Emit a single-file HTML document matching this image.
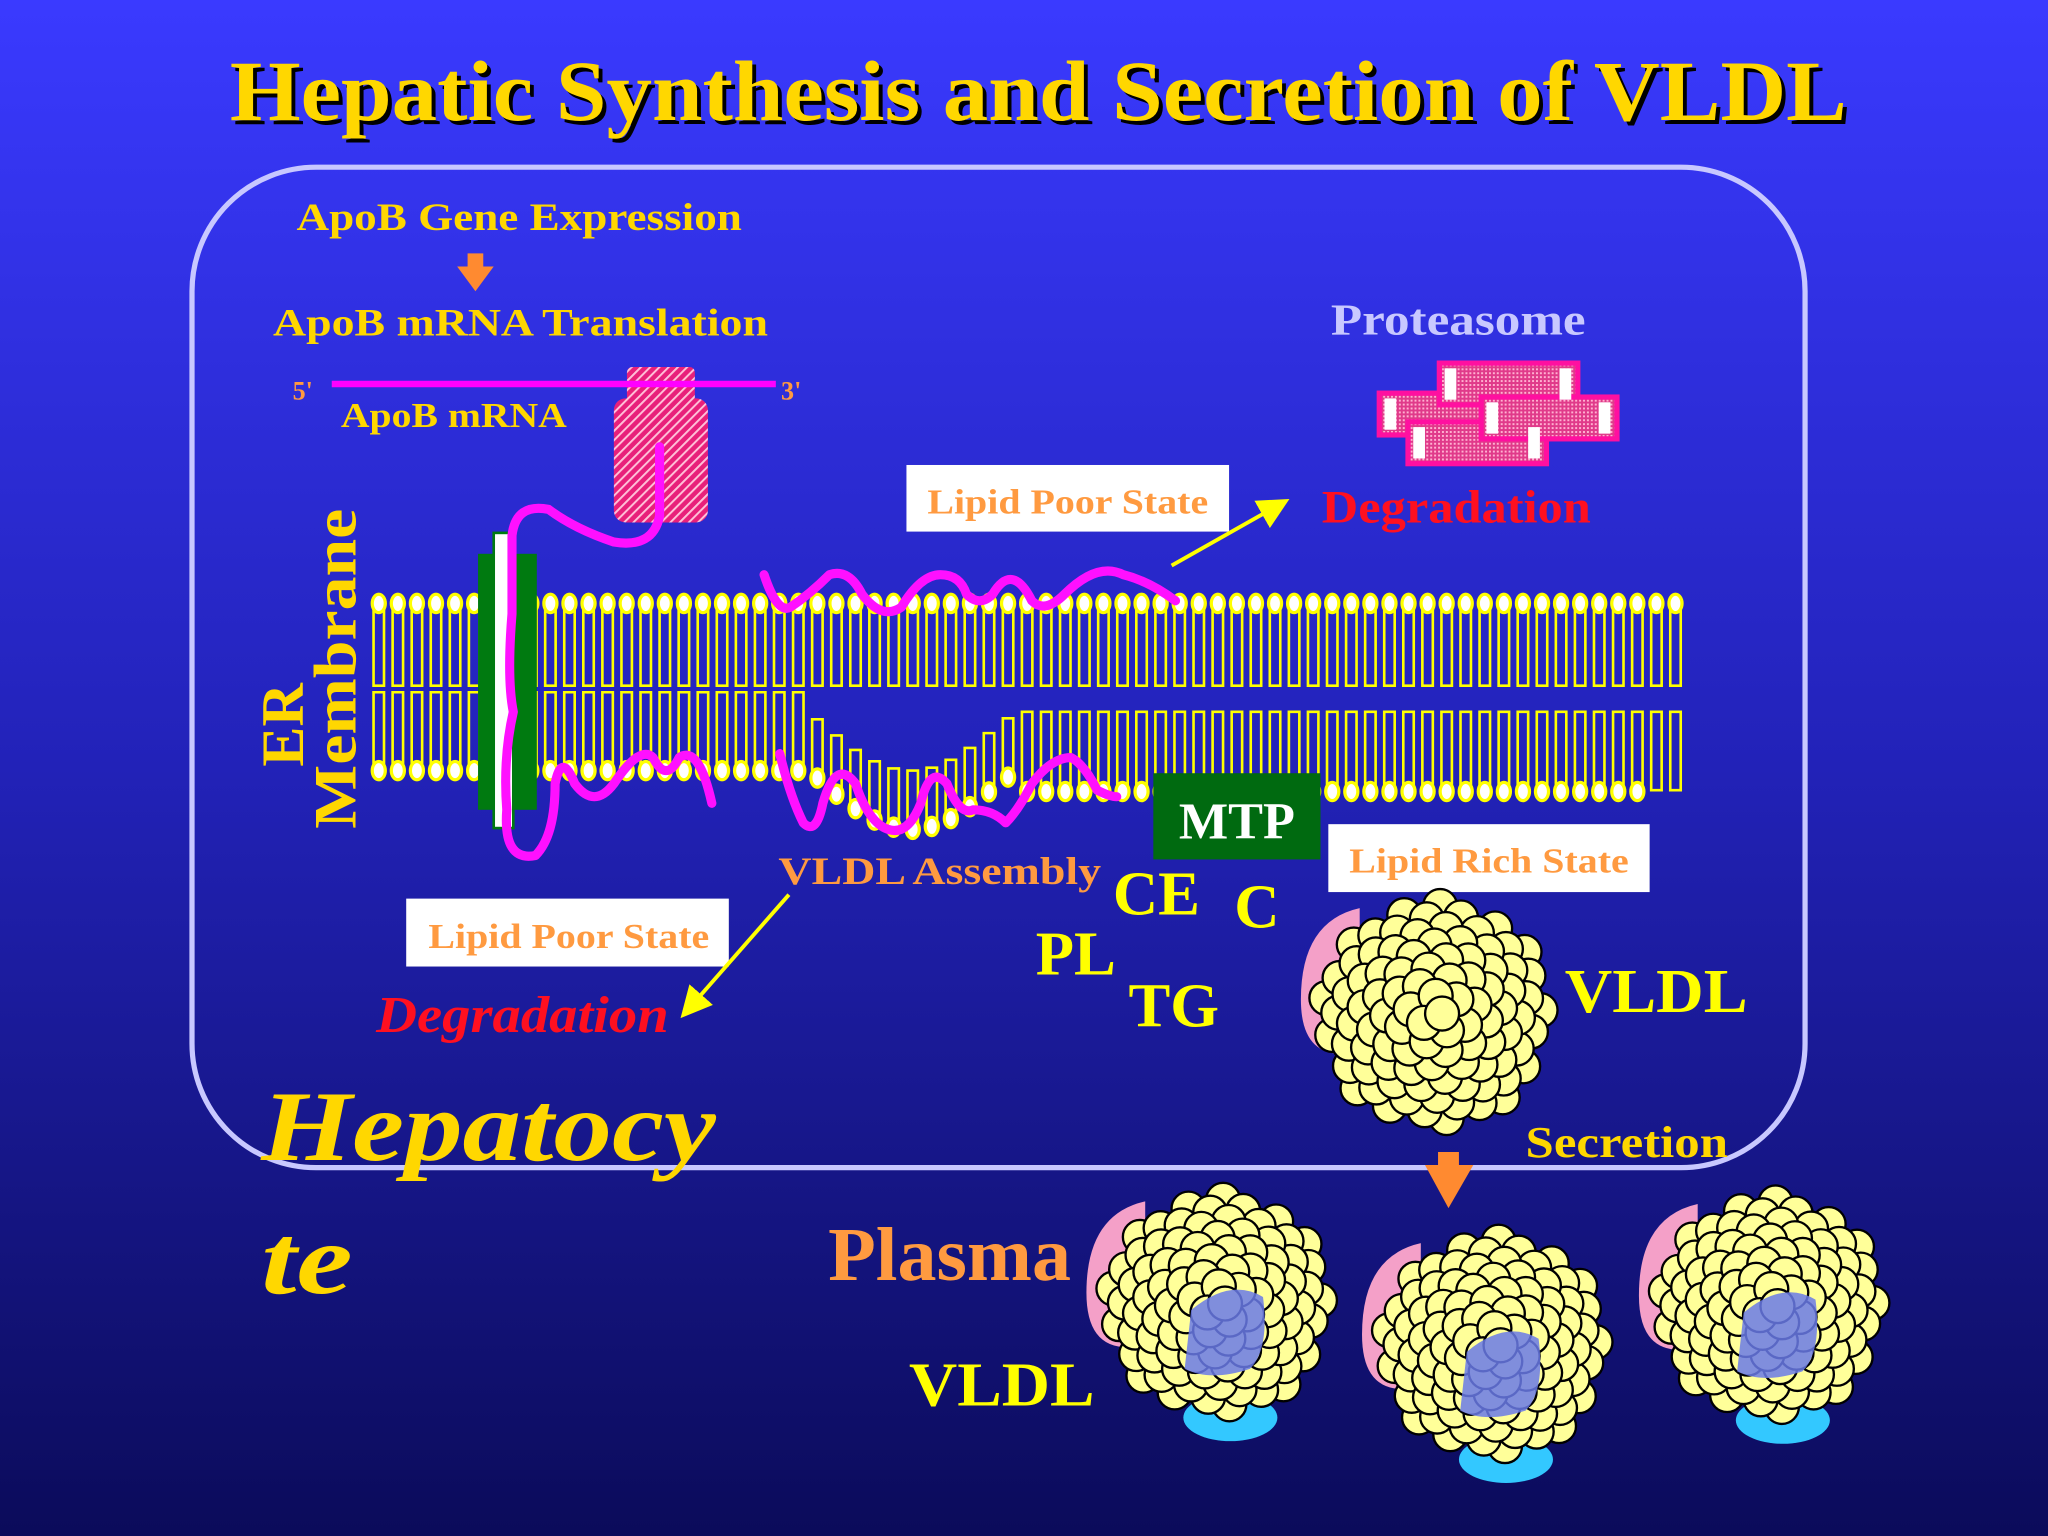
<!DOCTYPE html>
<html><head><meta charset="utf-8"><style>
html,body{margin:0;padding:0;width:2048px;height:1536px;overflow:hidden;background:#1a1ab0}
svg{display:block}
text{font-family:"Liberation Serif",serif;font-weight:bold}
</style></head><body>
<svg id="s" width="2048" height="1536" viewBox="0 0 1568 1176" preserveAspectRatio="none" xmlns="http://www.w3.org/2000/svg">
<defs>
<linearGradient id="bg" x1="0" y1="0" x2="0" y2="1">
<stop offset="0" stop-color="#3a3aff"/><stop offset="0.5" stop-color="#2222b8"/><stop offset="1" stop-color="#0b0b5a"/></linearGradient>
<pattern id="hatch" width="5" height="5" patternUnits="userSpaceOnUse" patternTransform="rotate(45)">
<rect width="5" height="5" fill="#e8207a"/><rect width="1.5" height="5" fill="#ffc0d8"/></pattern>
<pattern id="dots" width="3" height="3" patternUnits="userSpaceOnUse"><rect width="3" height="3" fill="#e03a8a"/><rect width="1.5" height="1.5" fill="#ffb0d0"/></pattern>
<marker id="ah" markerWidth="8" markerHeight="8" refX="6" refY="4" orient="auto" markerUnits="strokeWidth"><path d="M0,0 L8,4 L0,8 Z" fill="#ffff00"/></marker>
</defs>
<rect width="1568" height="1176" fill="url(#bg)"/>
<text x="176" y="92" font-size="66" textLength="1238" lengthAdjust="spacingAndGlyphs" fill="#000" transform="translate(3,3)">Hepatic Synthesis and Secretion of VLDL</text>
<text x="176" y="92" font-size="66" textLength="1238" lengthAdjust="spacingAndGlyphs" fill="#ffd700">Hepatic Synthesis and Secretion of VLDL</text>
<rect x="147" y="128" width="1235" height="766" rx="95" fill="none" stroke="#c8c8ff" stroke-width="4"/>
<g id="mem"></g>
<rect x="366" y="424" width="45" height="196" fill="#007a10"/>
<rect x="378" y="408" width="15" height="226" fill="#fff" stroke="#007a10" stroke-width="2"/>
<rect x="480" y="281" width="52" height="30" rx="4" fill="url(#hatch)"/>
<rect x="470" y="305" width="72" height="95" rx="9" fill="url(#hatch)"/>
<line x1="254" y1="294" x2="594" y2="294" stroke="#ff00ff" stroke-width="5"/>
<g fill="none" stroke="#ff10ff" stroke-width="7" stroke-linecap="round" stroke-linejoin="round">
<path d="M505,342 L505,395 Q500,420 470,415 Q440,405 420,390 Q395,385 392,410 L392,470 Q388,520 393,545 Q385,580 388,620 Q385,660 410,655 Q425,640 425,600 Q430,575 440,600 Q455,620 470,600 Q490,570 500,580 Q510,600 520,580 Q535,570 545,615"/>
<path d="M585,440 Q595,470 605,465 Q620,455 635,440 Q650,435 660,455 Q675,475 690,465 Q705,440 720,440 Q735,440 740,455 Q750,465 760,455 Q775,430 790,460 Q800,470 815,455 Q840,430 860,440 Q880,445 900,460"/>
<path d="M597,577 Q605,610 615,630 Q625,640 630,615 Q640,580 655,600 Q665,630 680,635 Q695,640 705,615 Q712,585 725,600 Q735,625 745,620 Q760,620 770,630 Q780,620 790,600 Q805,580 820,580 Q830,585 840,605 Q850,610 855,610"/>
</g>
<g fill="#ffd700" font-size="30">
<text x="227" y="176" textLength="341" lengthAdjust="spacingAndGlyphs">ApoB Gene Expression</text>
<text x="209" y="257" textLength="379" lengthAdjust="spacingAndGlyphs">ApoB mRNA Translation</text>
<text x="261" y="327" font-size="27" textLength="173" lengthAdjust="spacingAndGlyphs">ApoB mRNA</text>
</g>
<text x="224" y="306" font-size="20" fill="#ff9a40" font-weight="normal">5'</text>
<text x="598" y="306" font-size="20" fill="#ff9a40" font-weight="normal">3'</text>
<rect x="358" y="194" width="12" height="12" fill="#ff8a30"/><path d="M350,204 L378,204 L364,223 Z" fill="#ff8a30"/>
<text x="1019" y="256" font-size="34" fill="#c8c8ff" textLength="195" lengthAdjust="spacingAndGlyphs">Proteasome</text>
<g stroke="#ff10a0" stroke-width="4">
<rect x="1056" y="301" width="96" height="32" fill="url(#dots)"/>
<rect x="1078" y="323" width="106" height="32" fill="url(#dots)"/>
<rect x="1102" y="278" width="106" height="32" fill="url(#dots)"/>
<rect x="1134" y="304" width="104" height="32" fill="url(#dots)"/>
</g>
<g fill="#fff"><rect x="1060" y="305" width="9" height="24"/><rect x="1082" y="327" width="9" height="24"/><rect x="1170" y="327" width="9" height="24"/><rect x="1106" y="282" width="9" height="24"/><rect x="1194" y="282" width="9" height="24"/><rect x="1138" y="308" width="9" height="24"/><rect x="1224" y="308" width="9" height="24"/></g>
<text x="1012" y="400" font-size="36" fill="#ff1020" textLength="206" lengthAdjust="spacingAndGlyphs">Degradation</text>
<rect x="694" y="356" width="247" height="51" fill="#fff"/>
<text x="710" y="393" font-size="27" fill="#ff9a40" textLength="215" lengthAdjust="spacingAndGlyphs">Lipid Poor State</text>
<line x1="897" y1="433" x2="982" y2="385" stroke="#ffff00" stroke-width="3" marker-end="url(#ah)"/>
<text transform="translate(232,555) rotate(-90)" font-size="46" fill="#ffd700" text-anchor="middle">ER</text>
<text transform="translate(272,512) rotate(-90)" font-size="46" fill="#ffd700" text-anchor="middle" textLength="245" lengthAdjust="spacingAndGlyphs">Membrane</text>
<rect x="883" y="592" width="128" height="66" fill="#006a10"/>
<text x="947" y="642" font-size="40" fill="#fff" text-anchor="middle">MTP</text>
<text x="596" y="677" font-size="30" fill="#ff9a40" textLength="247" lengthAdjust="spacingAndGlyphs">VLDL Assembly</text>
<rect x="311" y="688" width="247" height="52" fill="#fff"/>
<text x="328" y="726" font-size="27" fill="#ff9a40" textLength="215" lengthAdjust="spacingAndGlyphs">Lipid Poor State</text>
<line x1="604" y1="685" x2="525" y2="775" stroke="#ffff00" stroke-width="3" marker-end="url(#ah)"/>
<text x="288" y="790" font-size="40" fill="#ff1020" font-style="italic" textLength="224" lengthAdjust="spacingAndGlyphs">Degradation</text>
<rect x="1017" y="631" width="246" height="52" fill="#fff"/>
<text x="1033" y="668" font-size="27" fill="#ff9a40" textLength="214" lengthAdjust="spacingAndGlyphs">Lipid Rich State</text>
<g fill="#ffff00" font-size="48"><text x="852" y="700">CE</text><text x="945" y="710">C</text><text x="793" y="746">PL</text><text x="864" y="786">TG</text>
<text x="1198" y="775" textLength="140" lengthAdjust="spacingAndGlyphs">VLDL</text><text x="696" y="1076" textLength="142" lengthAdjust="spacingAndGlyphs">VLDL</text></g>
<text x="1168" y="886" font-size="34" fill="#ffd700" textLength="155" lengthAdjust="spacingAndGlyphs">Secretion</text>
<rect x="1101" y="882" width="16" height="12" fill="#ff8a30"/><path d="M1091,892 L1128,892 L1109,925 Z" fill="#ff8a30"/>
<text x="634" y="980" font-size="58" fill="#ff9a40" textLength="186" lengthAdjust="spacingAndGlyphs">Plasma</text>
<text x="200" y="888" font-size="76" fill="#ffd700" font-style="italic" textLength="348" lengthAdjust="spacingAndGlyphs">Hepatocy</text>
<text x="200" y="990" font-size="76" fill="#ffd700" font-style="italic" textLength="70" lengthAdjust="spacingAndGlyphs">te</text>
<g id="parts"></g>
</svg>
<script>
var NS="http://www.w3.org/2000/svg",mem=document.getElementById('mem'),parts=document.getElementById('parts');
function el(t,a,p){var e=document.createElementNS(NS,t);for(var k in a)e.setAttribute(k,a[k]);(p||mem).appendChild(e);return e;}
function lipid(x,hy,ty){
 el('path',{d:"M"+(x-4)+","+hy+" L"+(x-4)+","+ty+" L"+(x+4)+","+ty+" L"+(x+4)+","+hy,fill:'none',stroke:'#ffff00','stroke-width':2});
 el('ellipse',{cx:x,cy:hy,rx:5,ry:7,fill:'#fff',stroke:'#ffff00','stroke-width':2.5});
}
for(var x=290;x<=1285;x+=14.6){lipid(x,462,525);}
for(var x=290;x<=1295;x+=14.6){
 if(x<625){lipid(x,590,530);}
 else if(x<785){var t=(x-625)/160;var h=595+40*Math.sin(Math.PI*Math.min(1,t*1.1));lipid(x,h,h-45);}
 else if(x<1255){lipid(x,606,545);}
 else{el('path',{d:"M"+(x-4)+",605 L"+(x-4)+",545 L"+(x+4)+",545 L"+(x+4)+",605 Z",fill:'none',stroke:'#ffff00','stroke-width':2});}
}
function particle(cx,cy,r,extra){
 el('path',{d:"M"+(cx-r*0.6)+","+(cy-r*0.85)+" q-45,10 -45,70 q0,50 45,40 z",fill:'#f4a0c8'},parts);
 if(extra){el('ellipse',{cx:cx+10,cy:cy+r*0.95,rx:36,ry:18,fill:'#33c8ff'},parts);}
 var cr=13,n=95,pts=[];
 for(var i=0;i<n;i++){var a=i*2.39996,rr=Math.sqrt((i+0.5)/n)*(r-cr+2);pts.push([cx+rr*Math.cos(a),cy+rr*Math.sin(a)]);}
 pts.reverse().forEach(function(p){el('circle',{cx:p[0],cy:p[1],r:cr,fill:'#ffff99',stroke:'#000','stroke-width':1.8},parts);});
 if(extra){el('path',{d:"M"+(cx-20)+","+(cy+5)+" q30,-25 55,-10 q5,40 -10,55 q-30,10 -50,0 z",fill:'#6a7ae8',opacity:0.85},parts);}
}
particle(1098,776,95,false);
particle(932,998,92,true);
particle(1143,1030,92,true);
particle(1355,1000,92,true);
</script>
</body></html>
